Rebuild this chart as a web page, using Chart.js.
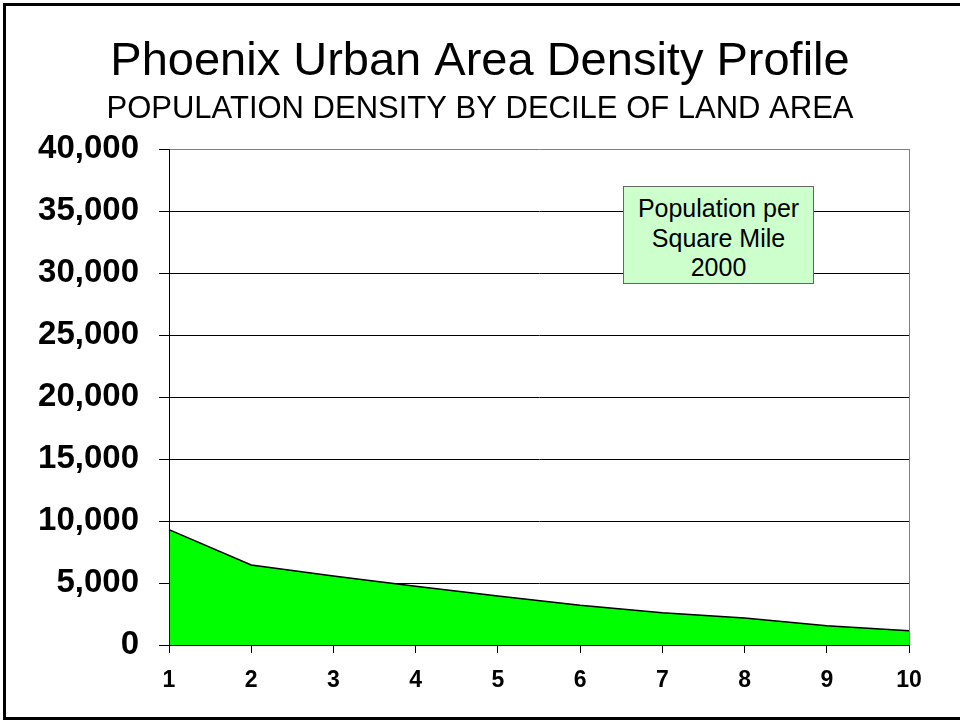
<!DOCTYPE html>
<html>
<head>
<meta charset="utf-8">
<script src="https://cdn.jsdelivr.net/npm/chart.js@4/dist/chart.umd.min.js"></script>
<style>
  html, body { margin: 0; padding: 0; background: #fff; overflow: hidden; }
  #wrap { position: relative; width: 960px; height: 721px; }
  #frame {
    position: absolute; left: 3px; top: 3px; width: 1000px; height: 717px;
    box-sizing: border-box; border: 3px solid #000; pointer-events: none;
  }
  #note {
    position: absolute; left: 623px; top: 186px; width: 191px; height: 98px;
    box-sizing: border-box; border: 1px solid #666; background: #ccffcc;
    padding-top: 7px; text-align: center;
    font-family: "Liberation Sans", Arial, sans-serif; font-size: 25px; line-height: 29.5px; color: #000;
  }
</style>
</head>
<body>
<div id="wrap">
  <canvas id="densityChart" width="960" height="721"></canvas>
  <div id="note"></div>
  <div id="frame"></div>
</div>
<script>
// deciles of land area
const deciles = ['1', '2', '3', '4', '5', '6', '7', '8', '9', '10'];
// population per square mile, 2000
const density = [9300, 6450, 5570, 4730, 3950, 3200, 2600, 2180, 1550, 1150];
const seriesLabel = ['Population per', 'Square Mile', '2000'];
const yTicks = [0, 5000, 10000, 15000, 20000, 25000, 30000, 35000, 40000];

document.getElementById('note').innerHTML = seriesLabel.join('<br>');

const font = '"Liberation Sans", Arial, sans-serif';
Chart.defaults.font.family = font;
Chart.defaults.color = '#000';

const ctx = document.getElementById('densityChart').getContext('2d');
new Chart(ctx, {
    type: 'line',
    data: {
        labels: deciles,
        datasets: [{
            label: seriesLabel.join(' '),
            data: density,
            borderColor: '#000',
            borderWidth: 1.5,
            backgroundColor: '#00ff00',
            fill: 'origin',
            tension: 0,
            pointRadius: 0
        }]
    },
    options: {
        responsive: false,
        animation: false,
        layout: { padding: 0 },
        plugins: {
            legend: { display: false },
            tooltip: { enabled: false },
            title: {
                display: true,
                text: 'Phoenix Urban Area Density Profile',
                font: { size: 47, weight: 'normal', lineHeight: 1 },
                padding: { top: 39, bottom: 0 }
            },
            subtitle: {
                display: true,
                text: 'POPULATION DENSITY BY DECILE OF LAND AREA',
                color: '#000',
                font: { size: 31, weight: 'normal', lineHeight: 1 },
                padding: { top: 8, bottom: 24 }
            }
        },
        scales: {
            x: {
                offset: false,
                afterFit: function (scale) { scale.height = 76; },
                grid: {
                    drawOnChartArea: true,
                    color: function (c) { return c.index === deciles.length - 1 ? '#808080' : 'rgba(0,0,0,0)'; },
                    tickColor: '#000',
                    tickLength: 8
                },
                border: { color: '#000', width: 1, z: 1 },
                ticks: {
                    padding: 14,
                    maxRotation: 0,
                    autoSkip: false,
                    font: { size: 23, weight: 'bold' }
                }
            },
            y: {
                min: 0,
                max: 40000,
                afterFit: function (scale) { scale.width = 169; },
                afterBuildTicks: function (scale) { scale.ticks = yTicks.map(v => ({ value: v })); },
                grid: {
                    color: function (c) { return c.tick && c.tick.value === 40000 ? '#808080' : '#000'; },
                    tickColor: '#000',
                    tickLength: 10
                },
                border: { color: '#000', width: 1, z: 1 },
                ticks: {
                    padding: 20,
                    font: { size: 33, weight: 'bold' },
                    callback: function (v) { return Number(v).toLocaleString('en-US'); }
                }
            },
            // empty right-hand margin so the titles stay centred on the page
            margin: {
                position: 'right',
                afterFit: function (scale) { scale.width = 51; },
                grid: { display: false },
                border: { display: false },
                ticks: { display: false }
            }
        }
    }
});
</script>
</body>
</html>
